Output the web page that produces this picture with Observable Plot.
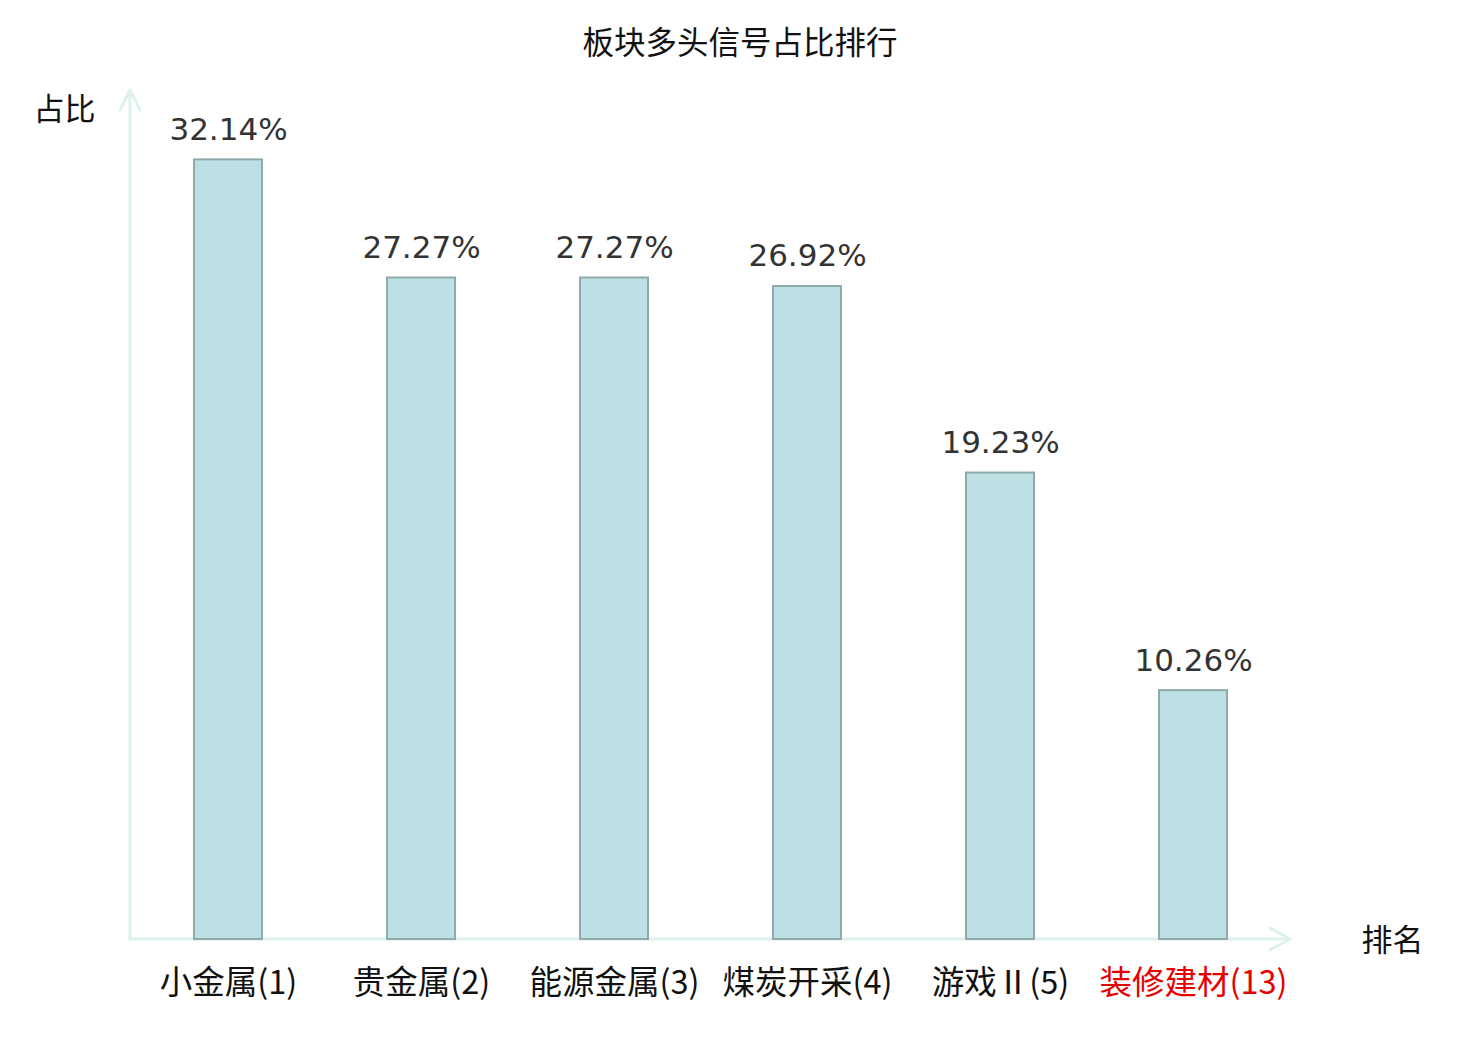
<!DOCTYPE html>
<html>
<head>
<meta charset="utf-8">
<script src="https://cdn.jsdelivr.net/npm/d3@7"></script>
<script src="https://cdn.jsdelivr.net/npm/@observablehq/plot@0.6"></script>
<style>
  html, body { margin: 0; padding: 0; background: #fff; }
  #title { height: 80px; width: 1480px; text-align: center; font-family: "Noto Sans CJK SC", sans-serif; font-size: 31.5px; line-height: 80px; color: #111; }
  #chart svg { display: block; }
</style>
</head>
<body>
<div id="title">板块多头信号占比排行</div>
<div id="chart"></div>
<script>
const sectors = ["小金属", "贵金属", "能源金属", "煤炭开采", "游戏Ⅱ", "装修建材"];
const ranks = [1, 2, 3, 4, 5, 13];
const shares = [32.14, 27.27, 27.27, 26.92, 19.23, 10.26];
const highlighted = [false, false, false, false, false, true];

const data = sectors.map((s, i) => ({
  label: `${s}(${ranks[i]})`,
  value: shares[i],
  color: highlighted[i] ? "#e60000" : "#111111"
}));

const axisColor = "#ddf1ee";

function axes(index, scales, values, dimensions) {
  const {width, height, marginLeft, marginRight, marginTop, marginBottom} = dimensions;
  const x0 = marginLeft, x1 = width - marginRight;
  const y0 = height - marginBottom, y1 = marginTop;
  const g = d3.create("svg:g")
    .attr("fill", "none")
    .attr("stroke", axisColor)
    .attr("stroke-width", 3)
    .attr("stroke-linecap", "round")
    .attr("stroke-linejoin", "round");
  g.append("path").attr("d", `M${x0},${y0}V${y1}`);
  g.append("path").attr("d", `M${x0},${y0}H${x1}`);
  g.append("path").attr("d", `M${x0 - 10},${y1 + 20}L${x0},${y1}L${x0 + 10},${y1 + 20}`);
  g.append("path").attr("d", `M${x1 - 20},${y0 - 11}L${x1},${y0}L${x1 - 20},${y0 + 11}`);
  return g.node();
}

const chart = Plot.plot({
  width: 1480,
  height: 960,
  marginTop: 10,
  marginBottom: 101,
  marginLeft: 130,
  marginRight: 190,
  x: {domain: data.map(d => d.label), paddingInner: 0.648, paddingOuter: 0.324, align: 0.5, axis: null},
  y: {domain: [0, 35], axis: null},
  color: {type: "identity"},
  marks: [
    axes,
    Plot.barY(data, {x: "label", y: "value", fill: "#bce0e3", stroke: "#8eaaab", strokeWidth: 2}),
    Plot.text(data, {x: "label", y: "value", text: d => d.value.toFixed(2) + "%", dy: -30, lineAnchor: "middle",
      fill: "#333333", fontSize: 31, fontFamily: "DejaVu Sans"}),
    Plot.text(data, {x: "label", text: "label", frameAnchor: "bottom", dy: 44, lineAnchor: "middle",
      fill: "color", fontSize: 32.5, fontFamily: "Noto Sans CJK SC"}),
    Plot.text(["排名"], {frameAnchor: "bottom-right", dx: 102, dy: 2, textAnchor: "middle", lineAnchor: "middle",
      fill: "#111111", fontSize: 31, fontFamily: "Noto Sans CJK SC"}),
    Plot.text(["占比"], {frameAnchor: "top-left", dx: -66, dy: 20, textAnchor: "middle", lineAnchor: "middle",
      fill: "#111111", fontSize: 31, fontFamily: "Noto Sans CJK SC"})
  ]
});
document.getElementById("chart").appendChild(chart);
</script>
</body>
</html>
